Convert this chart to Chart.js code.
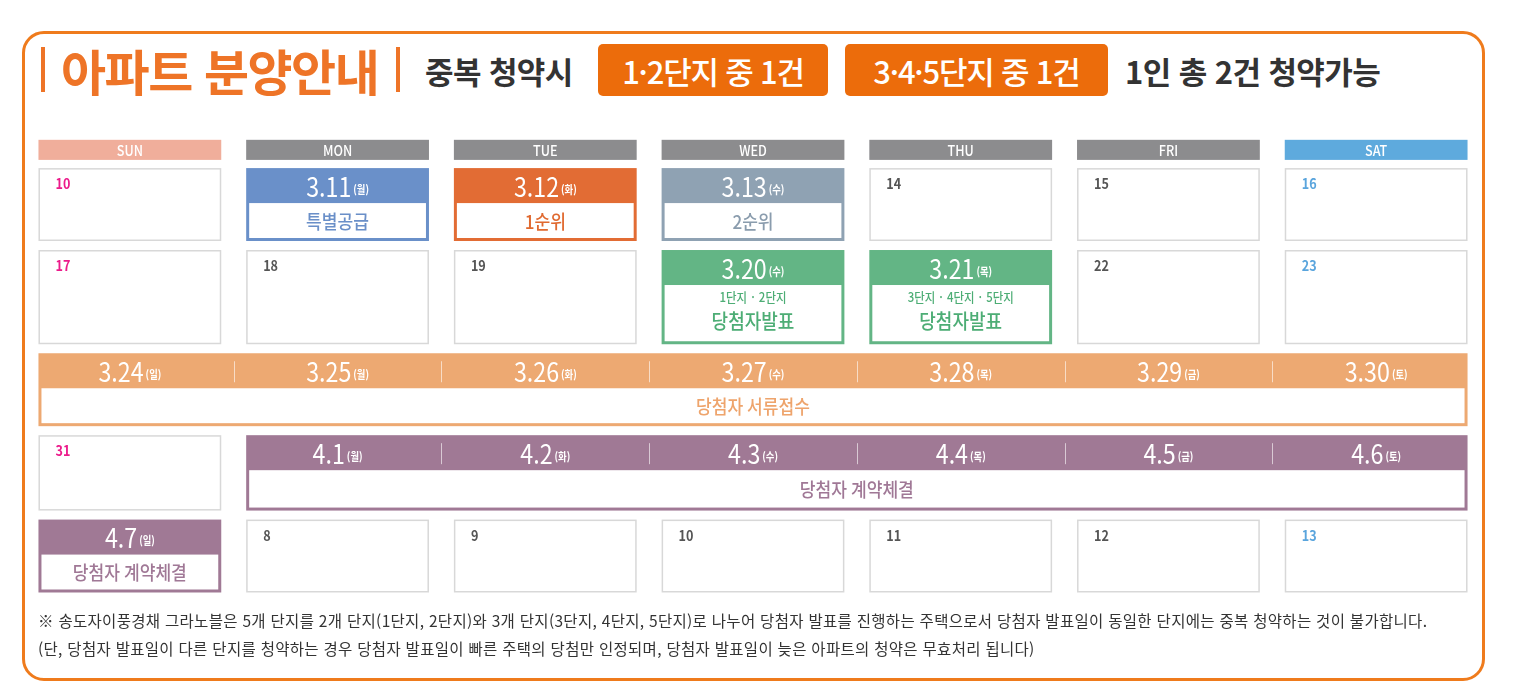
<!DOCTYPE html>
<html lang="ko">
<head>
<meta charset="utf-8">
<script src="https://cdn.jsdelivr.net/npm/chart.js@4/dist/chart.umd.min.js"></script>
<style>
  html, body { margin: 0; padding: 0; background: #fff; }
  #page { position: relative; width: 1516px; height: 700px; overflow: hidden;
          font-family: 'Noto Sans CJK KR', 'Noto Sans', sans-serif; }
  #cal { position: absolute; left: 0; top: 0; }
  .frame { position: absolute; left: 22px; top: 31px; width: 1457px; height: 644px;
           border: 3px solid #ef7b1c; border-radius: 22px; }
  .t { position: absolute; top: 44px; height: 52px; display: flex; align-items: center;
       font-weight: 700; white-space: nowrap; }
  .bar { position: absolute; top: 47px; width: 4px; height: 45px; background: #ee7427; }
  .main { left: 61px; font-size: 49px; color: #ee7427; letter-spacing: -1.5px; top: 43px; }
  .dark { font-size: 31px; color: #333; letter-spacing: -0.6px; }
  .pill { background: #ec6c0b; color: #fff; border-radius: 5px; justify-content: center;
          font-size: 31px; font-weight: 500; letter-spacing: -1.2px; }
  .note { position: absolute; left: 38px; top: 606px; font-size: 15.5px; line-height: 28px;
          color: #333; white-space: nowrap; letter-spacing: 0.3px; }
</style>
</head>
<body>
<div id="page">
  <div class="frame"></div>
  <div class="bar" style="left:41px"></div>
  <div class="t main">아파트 분양안내</div>
  <div class="bar" style="left:396px"></div>
  <div class="t dark" style="left:425px">중복 청약시</div>
  <div class="t pill" style="left:598px;width:230px">1·2단지 중 1건</div>
  <div class="t pill" style="left:845px;width:263px">3·4·5단지 중 1건</div>
  <div class="t dark" style="left:1125px">1인 총 2건 청약가능</div>
  <canvas id="cal" width="1516" height="700"></canvas>
  <div class="note">※ 송도자이풍경채 그라노블은 5개 단지를 2개 단지(1단지, 2단지)와 3개 단지(3단지, 4단지, 5단지)로 나누어 당첨자 발표를 진행하는 주택으로서 당첨자 발표일이 동일한 단지에는 중복 청약하는 것이 불가합니다.<br>(단, 당첨자 발표일이 다른 단지를 청약하는 경우 당첨자 발표일이 빠른 주택의 당첨만 인정되며, 당첨자 발표일이 늦은 아파트의 청약은 무효처리 됩니다)</div>
</div>
<script>
// calendar data
const DAYS = ['SUN', 'MON', 'TUE', 'WED', 'THU', 'FRI', 'SAT'];
const DAY_KO = ['일', '월', '화', '수', '목', '금', '토'];
const START_MONTH = 3;
const WEEK_DATES = [
  [10, 11, 12, 13, 14, 15, 16],
  [17, 18, 19, 20, 21, 22, 23],
  [24, 25, 26, 27, 28, 29, 30],
  [31, 1, 2, 3, 4, 5, 6],
  [7, 8, 9, 10, 11, 12, 13],
];

// schedule entries (week row, first column, last column, text, kind)
const EVENT_WEEK = [0, 0, 0, 1, 1, 2, 3, 4];
const EVENT_FROM = [1, 2, 3, 3, 4, 0, 1, 0];
const EVENT_TO   = [1, 2, 3, 3, 4, 6, 6, 0];
const EVENT_LINES = [
  ['특별공급'], ['1순위'], ['2순위'],
  ['1단지 · 2단지', '당첨자발표'], ['3단지 · 4단지 · 5단지', '당첨자발표'],
  ['당첨자 서류접수'], ['당첨자 계약체결'], ['당첨자 계약체결'],
];
const EVENT_KIND = ['special', 'first', 'second', 'win', 'win', 'docs', 'contract', 'contract'];

// styles
const KIND_STYLE = {
  special:  { fill: '#6a90c9', text: '#6a8fc8' },
  first:    { fill: '#e26c34', text: '#e0692f' },
  second:   { fill: '#8fa2b3', text: '#8a9cad' },
  win:      { fill: '#63b585', text: '#4dad75' },
  docs:     { fill: '#eda972', text: '#eea46c' },
  contract: { fill: '#a07995', text: '#a07896' },
};
const HEADER_FILL = ['#f0ae9b', '#8c8c8e', '#8c8c8e', '#8c8c8e', '#8c8c8e', '#8c8c8e', '#5eaadd'];
const NUM_COLOR = ['#ec1b8b', '#555', '#555', '#555', '#555', '#555', '#5aa5dd'];
const FONT = "'Noto Sans CJK KR', 'Noto Sans', sans-serif";
const CELL_HALF = 0.44;        // half cell width, in column units
const ROW_WEIGHTS = [1, 1.26, 1, 1.03, 1];
const ROW_GAP = 0.11;
const HEADER_SPAN = [-0.29, -0.045];
const EVENT_HEAD = 35;         // px, coloured strip holding the dates

// month for every cell, walking the dates in order
const WEEK_MONTHS = [];
{
  let m = START_MONTH, prev = 0;
  WEEK_DATES.forEach(week => {
    WEEK_MONTHS.push(week.map(d => { if (d < prev) m++; prev = d; return m; }));
  });
}

function rowStart(w) {
  return ROW_WEIGHTS.slice(0, w).reduce((a, b) => a + b, 0);
}

function squeezeText(ctx, text, x, y, font, sx, align) {
  ctx.save();
  ctx.font = font;
  ctx.translate(x, y);
  ctx.scale(sx, 1);
  ctx.textAlign = align || 'center';
  ctx.fillText(text, 0, 0);
  ctx.restore();
}

function textWidth(ctx, text, font, sx) {
  ctx.font = font;
  return ctx.measureText(text).width * sx;
}

const calendarPlugin = {
  id: 'calendar',
  beforeDatasetsDraw(chart) {
    const { ctx, scales: { x, y } } = chart;
    const left = c => x.getPixelForValue(c - CELL_HALF);
    const right = c => x.getPixelForValue(c + CELL_HALF);
    const top = w => y.getPixelForValue(rowStart(w) + ROW_GAP / 2);
    const bottom = w => y.getPixelForValue(rowStart(w) + ROW_WEIGHTS[w] - ROW_GAP / 2);
    ctx.save();
    ctx.textBaseline = 'middle';

    // weekday headers
    const hy0 = y.getPixelForValue(HEADER_SPAN[0]);
    const hy1 = y.getPixelForValue(HEADER_SPAN[1]);
    DAYS.forEach((d, c) => {
      ctx.fillStyle = HEADER_FILL[c];
      ctx.fillRect(left(c), hy0, right(c) - left(c), hy1 - hy0);
      ctx.fillStyle = '#fff';
      squeezeText(ctx, d, x.getPixelForValue(c), (hy0 + hy1) / 2 + 1, `500 14px ${FONT}`, 0.9);
    });

    // plain day cells
    const covered = (w, c) => EVENT_WEEK.some((ew, i) => ew === w && EVENT_FROM[i] <= c && c <= EVENT_TO[i]);
    WEEK_DATES.forEach((week, w) => {
      week.forEach((d, c) => {
        if (covered(w, c)) return;
        const x0 = left(c), y0 = top(w);
        ctx.fillStyle = '#fff';
        ctx.fillRect(x0, y0, right(c) - x0, bottom(w) - y0);
        ctx.strokeStyle = '#d8d8d8';
        ctx.lineWidth = 1.5;
        ctx.strokeRect(x0 + 0.75, y0 + 0.75, right(c) - x0 - 1.5, bottom(w) - y0 - 1.5);
        ctx.fillStyle = NUM_COLOR[c];
        squeezeText(ctx, String(d), x0 + 17, y0 + 16, `600 14px ${FONT}`, 0.9, 'left');
      });
    });

    // schedule blocks
    EVENT_WEEK.forEach((w, i) => {
      const st = KIND_STYLE[EVENT_KIND[i]];
      const x0 = left(EVENT_FROM[i]), x1 = right(EVENT_TO[i]);
      const y0 = top(w), y1 = bottom(w);
      ctx.fillStyle = st.fill;
      ctx.fillRect(x0, y0, x1 - x0, y1 - y0);
      ctx.fillStyle = '#fff';
      ctx.fillRect(x0 + 3, y0 + EVENT_HEAD, x1 - x0 - 6, y1 - y0 - EVENT_HEAD - 3);

      // dates in the coloured strip
      for (let c = EVENT_FROM[i]; c <= EVENT_TO[i]; c++) {
        const main = `${WEEK_MONTHS[w][c]}.${WEEK_DATES[w][c]}`;
        const sub = `(${DAY_KO[c]})`;
        const fMain = `400 27px ${FONT}`, fSub = `700 11px ${FONT}`;
        const wMain = textWidth(ctx, main, fMain, 0.86), wSub = textWidth(ctx, sub, fSub, 0.85);
        const sx = x.getPixelForValue(c) - (wMain + 2 + wSub) / 2;
        const cy = y0 + EVENT_HEAD / 2 + 1;
        ctx.fillStyle = '#fff';
        squeezeText(ctx, main, sx, cy, fMain, 0.86, 'left');
        squeezeText(ctx, sub, sx + wMain + 2, cy + 3, fSub, 0.85, 'left');
        if (c > EVENT_FROM[i]) {
          const sepX = Math.round(x.getPixelForValue(c - 0.5)) + 0.5;
          ctx.strokeStyle = 'rgba(255,255,255,0.6)';
          ctx.lineWidth = 1;
          ctx.beginPath();
          ctx.moveTo(sepX, y0 + 8);
          ctx.lineTo(sepX, y0 + EVENT_HEAD - 6);
          ctx.stroke();
        }
      }

      // description
      const lines = EVENT_LINES[i];
      const cx = (x0 + x1) / 2;
      const iy0 = y0 + EVENT_HEAD, iy1 = y1 - 3;
      ctx.fillStyle = st.text;
      if (lines.length === 1) {
        squeezeText(ctx, lines[0], cx, (iy0 + iy1) / 2 + 1, `500 19px ${FONT}`, 0.9);
      } else {
        squeezeText(ctx, lines[0], cx, iy0 + 12, `500 13px ${FONT}`, 0.88);
        squeezeText(ctx, lines[1], cx, iy0 + 36, `500 20px ${FONT}`, 0.9);
      }
    });
    ctx.restore();
  },
};

new Chart(document.getElementById('cal'), {
  type: 'scatter',
  data: { datasets: [] },
  options: {
    responsive: false,
    animation: false,
    layout: { padding: { left: 26, right: 36, top: 139, bottom: 103 } },
    plugins: { legend: { display: false }, tooltip: { enabled: false } },
    scales: {
      x: { type: 'linear', display: false, min: -0.5, max: DAYS.length - 0.5 },
      y: { type: 'linear', display: false, reverse: true,
           min: -0.3, max: rowStart(ROW_WEIGHTS.length) },
    },
  },
  plugins: [calendarPlugin],
});
</script>
</body>
</html>
